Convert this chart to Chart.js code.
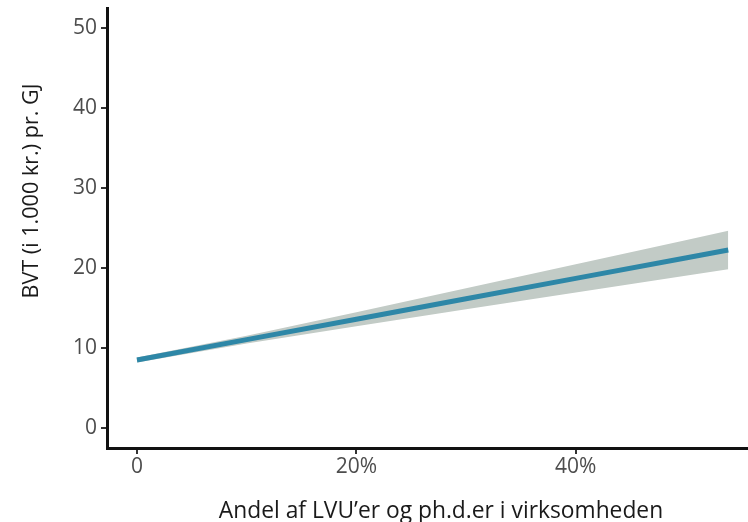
<!DOCTYPE html>
<html>
<head>
<meta charset="utf-8">
<script src="https://cdn.jsdelivr.net/npm/chart.js@4.4.1/dist/chart.umd.min.js"></script>
<style>
  body { margin: 0; background: #fff; }
  #wrap { width: 748px; height: 522px; }
</style>
</head>
<body>
<div id="wrap"><canvas id="chart" width="748" height="522"></canvas></div>
<script>
// share of LVU / PhD employees (x) and fitted value with confidence band
const shares = [0, 0.1, 0.2, 0.3, 0.4, 0.5, 0.539];
const fitted = [8.5, 11.05, 13.6, 16.15, 18.7, 21.25, 22.25];
const upper  = [8.81, 11.53, 14.48, 17.47, 20.47, 23.48, 24.66];
const lower  = [8.19, 10.57, 12.72, 14.83, 16.93, 19.02, 19.84];

const xTicks = [0, 0.2, 0.4];
const xTickLabels = ["0", "20%", "40%"];
const yTicks = [0, 10, 20, 30, 40, 50];

const xTitle = "Andel af LVU’er og ph.d.er i virksomheden";
const yTitle = "BVT (i 1.000 kr.) pr. GJ";

const fontFamily = "'Open Sans', 'Noto Sans', sans-serif";
const toPoints = (ys) => shares.map((x, i) => ({ x: x, y: ys[i] }));

// axis titles drawn by hand so they sit where the original has them
const axisTitles = {
  id: "axisTitles",
  afterDraw(chart) {
    const ctx = chart.ctx;
    ctx.save();
    ctx.fillStyle = "#1a1a1a";
    ctx.textAlign = "center";
    ctx.textBaseline = "alphabetic";
    ctx.font = "22.8px " + fontFamily;
    ctx.fillText(xTitle, 441, 518);
    ctx.font = "21.6px " + fontFamily;
    ctx.translate(38, 191);
    ctx.rotate(-Math.PI / 2);
    ctx.fillText(yTitle, 0, 0);
    ctx.restore();
  },
};

new Chart(document.getElementById("chart"), {
  type: "line",
  plugins: [axisTitles],
  data: {
    datasets: [
      {
        data: toPoints(upper),
        borderWidth: 0,
        pointRadius: 0,
        backgroundColor: "#c2cbc6",
        fill: "+1",
      },
      {
        data: toPoints(lower),
        borderWidth: 0,
        pointRadius: 0,
        fill: false,
      },
      {
        data: toPoints(fitted),
        borderColor: "#2e87a7",
        borderWidth: 5,
        pointRadius: 0,
        fill: false,
      },
    ],
  },
  options: {
    responsive: false,
    animation: false,
    layout: { padding: { top: 8, right: 0, left: 0, bottom: 0 } },
    plugins: {
      legend: { display: false },
      tooltip: { enabled: false },
      filler: { drawTime: "beforeDatasetsDraw" },
    },
    scales: {
      x: {
        type: "linear",
        min: -0.0273,
        max: 0.557,
        afterBuildTicks: (scale) => { scale.ticks = xTicks.map((v) => ({ value: v })); },
        afterFit: (scale) => {
          scale.height = 74;
          scale.paddingLeft = 0;
          scale.paddingRight = 0;
        },
        ticks: {
          color: "#4d4d4d",
          font: { family: fontFamily, size: 21 },
          padding: 0,
          maxRotation: 0,
          callback: (v) => xTickLabels[xTicks.indexOf(v)],
        },
        grid: {
          drawOnChartArea: false,
          drawTicks: true,
          tickLength: 6,
          color: "#333333",
          lineWidth: 2,
        },
        border: { display: true, color: "#111111", width: 3 },
      },
      y: {
        min: -2.5,
        max: 52.5,
        afterBuildTicks: (scale) => { scale.ticks = yTicks.map((v) => ({ value: v })); },
        afterFit: (scale) => {
          scale.width = 107;
          scale.paddingTop = 0;
          scale.paddingBottom = 0;
        },
        ticks: {
          color: "#4d4d4d",
          font: { family: fontFamily, size: 21 },
          padding: 4,
        },
        grid: {
          drawOnChartArea: false,
          drawTicks: true,
          tickLength: 6,
          color: "#333333",
          lineWidth: 2,
        },
        border: { display: true, color: "#111111", width: 3 },
      },
    },
  },
});
</script>
</body>
</html>
